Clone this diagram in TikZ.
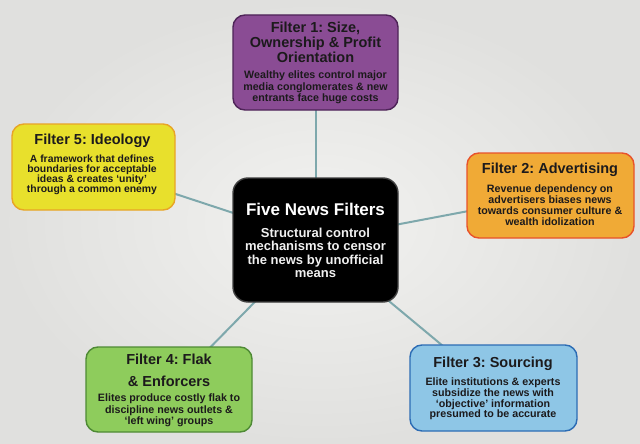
\documentclass[tikz,border=0pt]{standalone}
\usepackage{fontspec}
\setmainfont{Liberation Sans}
\frenchspacing
\usetikzlibrary{backgrounds}
\definecolor{bgin}{HTML}{F2F2F0}
\definecolor{bgout}{HTML}{E0E0DE}
\definecolor{conncol}{HTML}{7EA8AC}
\definecolor{txt}{HTML}{1C1A1C}
\definecolor{purfill}{HTML}{8A4C94}
\definecolor{purdraw}{HTML}{4E2458}
\definecolor{yelfill}{HTML}{E8E02C}
\definecolor{yeldraw}{HTML}{E8A426}
\definecolor{orafill}{HTML}{F0AA36}
\definecolor{oradraw}{HTML}{E8522A}
\definecolor{grnfill}{HTML}{8ECC5C}
\definecolor{grndraw}{HTML}{4E8A34}
\definecolor{blufill}{HTML}{8EC6E6}
\definecolor{bludraw}{HTML}{2C6CB4}
\begin{document}
\begin{tikzpicture}[x=1pt,y=-1pt,
  fbox/.style={draw, line width=1.4pt, rounded corners=12pt, inner sep=0pt, minimum width=#1},
  title/.style={font=\bfseries\fontsize{14.5}{15.3}\selectfont, align=center, inner sep=0pt, text=txt},
  body/.style={font=\bfseries\fontsize{10.7}{11.4}\selectfont, align=center, inner sep=0pt, text=txt},
  conn/.style={draw=conncol, line width=2pt}]
\useasboundingbox (0,0) rectangle (640,444);
% boxes
\node[fbox=165pt, minimum height=95pt, fill=purfill, draw=purdraw] (f1) at (315.5,62.5) {};
\node[fbox=163pt, minimum height=86pt, fill=yelfill, draw=yeldraw] (f5) at (93.5,167) {};
\node[fbox=167pt, minimum height=85pt, fill=orafill, draw=oradraw] (f2) at (550.5,195.5) {};
\node[fbox=165pt, minimum height=124pt, fill=black, draw=black!75, rounded corners=15pt] (c) at (315.5,240) {};
\node[fbox=166pt, minimum height=85pt, fill=grnfill, draw=grndraw] (f4) at (169,389.5) {};
\node[fbox=167pt, minimum height=86pt, fill=blufill, draw=bludraw] (f3) at (493.5,388) {};
% texts
\node[title] (f1t) at (315.5,42.3) {Filter 1: Size,\\Ownership \& Profit\\Orientation};
\node[body, font=\bfseries\fontsize{10.7}{11.5}\selectfont] (f1b) at (315.5,87.5) {Wealthy elites control major\\media conglomerates \& new\\entrants face huge costs};
\node[title] (f5t) at (92.5,141) {Filter 5: Ideology};
\node[body, font=\bfseries\fontsize{10.4}{10}\selectfont] (f5b) at (92,174.5) {A framework that defines\\boundaries for acceptable\\ideas \& creates ‘unity’\\through a common enemy};
\node[title] (f2t) at (550,169.3) {Filter 2: Advertising};
\node[body, font=\bfseries\fontsize{10.7}{11.1}\selectfont] (f2b) at (550,205.5) {Revenue dependency on\\advertisers biases news\\towards consumer culture \&\\wealth idolization};
\node[title, text=white, font=\bfseries\fontsize{17}{18}\selectfont] (ct) at (315.5,209) {Five News Filters};
\node[body, text=white!94!black, font=\bfseries\fontsize{13}{13.4}\selectfont] (cb) at (315.5,253) {Structural control\\mechanisms to censor\\the news by unofficial\\means};
\node[title, font=\bfseries\fontsize{14.5}{21.7}\selectfont] (f4t) at (169,370) {Filter 4: Flak\\\& Enforcers};
\node[body, font=\bfseries\fontsize{10.7}{11.7}\selectfont] (f4b) at (169,410.5) {Elites produce costly flak to\\discipline news outlets \&\\‘left wing’ groups};
\node[title] (f3t) at (493,363.3) {Filter 3: Sourcing};
\node[body, font=\bfseries\fontsize{10.7}{10.6}\selectfont] (f3b) at (493,399) {Elite institutions \& experts\\subsidize the news with\\‘objective’ information\\presumed to be accurate};
% background and connectors
\begin{scope}[on background layer]
  \fill[inner color=bgin, outer color=bgout] (0,0) rectangle (640,444);
  \draw[conn] (c.center) -- (f1.center);
  \draw[conn] (c.center) -- (f2.center);
  \draw[conn] (c.center) -- (f3.center);
  \draw[conn] (c.center) -- (f4.center);
  \draw[conn] (c.center) -- (f5.center);
\end{scope}
\end{tikzpicture}
\end{document}
